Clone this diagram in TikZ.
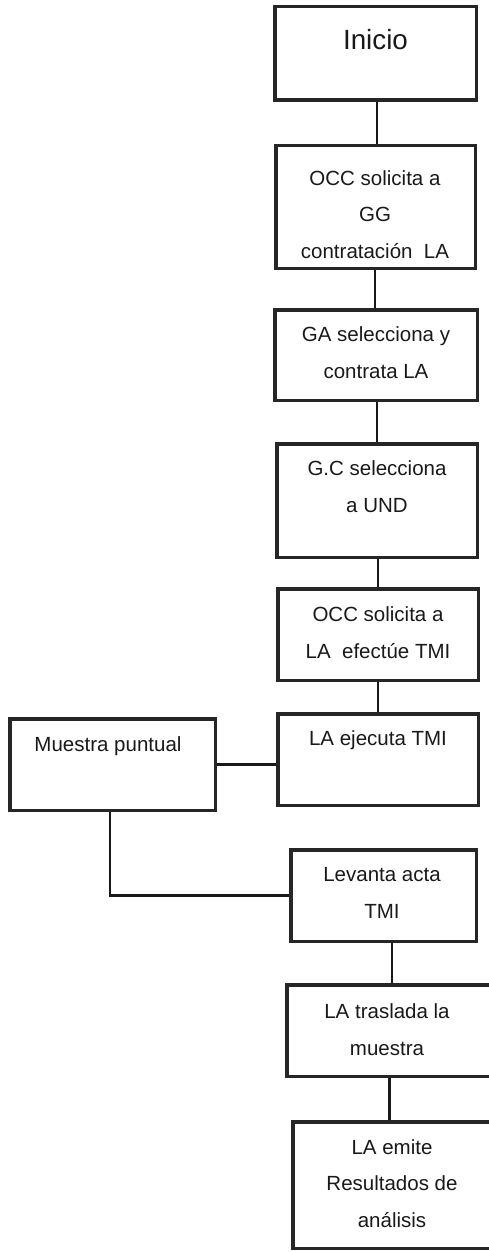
\documentclass[tikz,border=0pt]{standalone}
\usepackage{fontspec}
\setmainfont{Liberation Sans}
\begin{document}
\begin{tikzpicture}[x=1pt,y=-1pt,
  box/.style={draw=black!85,line width=3.5pt,inner sep=0pt,anchor=north west},
  conn/.style={draw=black!90,line width=2.2pt},
  txt/.style={align=center,font=\fontsize{20.5}{36.5}\selectfont,inner sep=0pt,anchor=base,text=black!90}]
\useasboundingbox (0,0) rectangle (489,1252);
% boxes
\node[box,minimum width=201.5pt,minimum height=93.5pt] (b1) at (273,5) {};
\node[box,minimum width=199.5pt,minimum height=122.5pt] (b2) at (274,144) {};
\node[box,minimum width=202.5pt,minimum height=90.5pt] (b3) at (273,308) {};
\node[box,minimum width=200.5pt,minimum height=113.5pt] (b4) at (275,442) {};
\node[box,minimum width=200.5pt,minimum height=91.5pt] (b5) at (276,587) {};
\node[box,minimum width=200.5pt,minimum height=91.5pt] (b6) at (276,712) {};
\node[box,minimum width=205.5pt,minimum height=91.5pt] (bm) at (8,717) {};
\node[box,minimum width=185.5pt,minimum height=91.5pt] (b7) at (289,848) {};
\node[box,minimum width=205.5pt,minimum height=91.5pt] (b8) at (285,983) {};
\node[box,minimum width=199.5pt,minimum height=126.5pt] (b9) at (291,1120) {};
% texts (anchor=base is the baseline of the last line)
\node[txt,font=\fontsize{27.8}{33}\selectfont] (t1) at (375.5,50) {Inicio};
\node[txt] (t2) at (375,258) {OCC solicita a\\GG\\contratación\ \ LA};
\node[txt] (t3) at (376,378) {GA selecciona y\\contrata LA};
\node[txt] (t4) at (377,512) {G.C selecciona\\a UND};
\node[txt] (t5) at (378,658) {OCC solicita a\\LA\ \ efectúe TMI};
\node[txt] (t6) at (378,745) {LA ejecuta TMI};
\node[txt] (tm) at (108,751) {Muestra puntual};
\node[txt] (t7) at (382,918) {Levanta acta\\TMI};
\node[txt] (t8) at (387,1055) {LA traslada la\\muestra};
\node[txt] (t9) at (392,1227) {LA emite\\Resultados de\\análisis};
% connectors
\draw[conn] ([xshift=1.5pt]b1.south) -- ([xshift=1.5pt]b1.south |- b2.north);
\draw[conn] ([xshift=-0.5pt]b2.south) -- ([xshift=-0.5pt]b2.south |- b3.north);
\draw[conn] ([xshift=1pt]b3.south) -- ([xshift=1pt]b3.south |- b4.north);
\draw[conn] ([xshift=1pt]b4.south) -- ([xshift=1pt]b4.south |- b5.north);
\draw[conn] (b5.south) -- (b5.south |- b6.north);
\draw[conn] (bm.east) -- (bm.east -| b6.west);
\draw[conn] ([xshift=-2.5pt]bm.south) -- ([xshift=-2.5pt]bm.south |- b7.west) -- (b7.west);
\draw[conn] ([xshift=8.5pt]b7.south) -- ([xshift=8.5pt]b7.south |- b8.north);
\draw[conn] (b8.south) -- (b8.south |- b9.north);
\end{tikzpicture}
\end{document}
